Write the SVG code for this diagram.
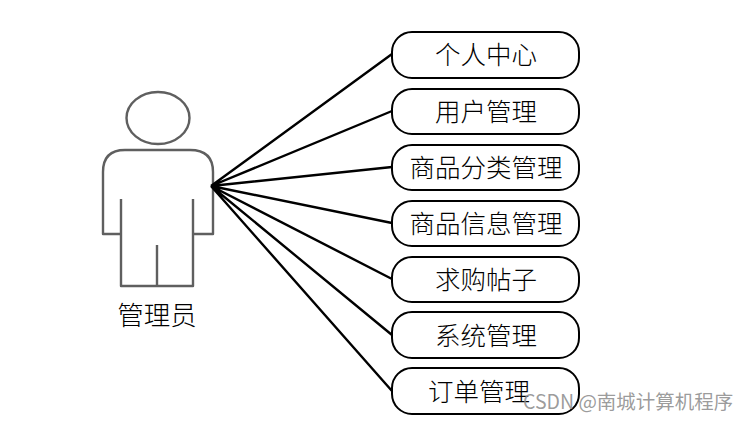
<svg xmlns="http://www.w3.org/2000/svg" width="749" height="421" viewBox="0 0 749 421">
<style>
.box{fill:#fff;stroke:#000;stroke-width:2}
.lbl{font-family:"Noto Sans CJK SC","Noto Sans CJK JP",sans-serif;font-size:25.500px;font-weight:300;fill:#000;text-anchor:middle;dominant-baseline:central}
.act{fill:none;stroke:#5f5f5f;stroke-width:2.4;stroke-linejoin:round}
.con{stroke:#000;stroke-width:2.4;fill:none}
.wm{font-family:"Noto Sans CJK SC","Liberation Sans",sans-serif;font-size:19.500px;fill:#8a8a8a;fill-opacity:.85}
</style>
<rect width="749" height="421" fill="#fff"/>
<g id="actor">
<ellipse class="act" cx="158" cy="118" rx="31.500" ry="26"/>
<path class="act" d="M121 234H103V172Q103 150 125 150H190Q213 150 213 172V234H193"/>
<path class="act" d="M121 199V286H193V199M157 245V286"/>
<text class="lbl" x="157" y="313" style="font-size:26.500px">管理员</text>
</g>
<g id="connectors">
<path class="con" d="M211 186L392 54M211 186L392 111M211 186L392 167M211 186L392 223M211 186L392 279M211 186L392 335M211 186L392 391"/>
</g>
<g id="n1"><rect class="box" x="392" y="32" width="187" height="46" rx="20"/><text class="lbl" x="486" y="52">个人中心</text></g>
<g id="n2"><rect class="box" x="392" y="89" width="187" height="45" rx="20"/><text class="lbl" x="486" y="109">用户管理</text></g>
<g id="n3"><rect class="box" x="392" y="145" width="187" height="45" rx="20"/><text class="lbl" x="486" y="165">商品分类管理</text></g>
<g id="n4"><rect class="box" x="392" y="201" width="187" height="45" rx="20"/><text class="lbl" x="486" y="221">商品信息管理</text></g>
<g id="n5"><rect class="box" x="392" y="257" width="187" height="45" rx="20"/><text class="lbl" x="486" y="277">求购帖子</text></g>
<g id="n6"><rect class="box" x="392" y="312" width="187" height="46" rx="20"/><text class="lbl" x="486" y="333">系统管理</text></g>
<g id="n7"><rect class="box" x="392" y="368" width="187" height="46" rx="20"/><text class="lbl" x="479" y="389">订单管理</text></g>
<text class="wm" x="523" y="409">CSDN @南城计算机程序</text>
</svg>
